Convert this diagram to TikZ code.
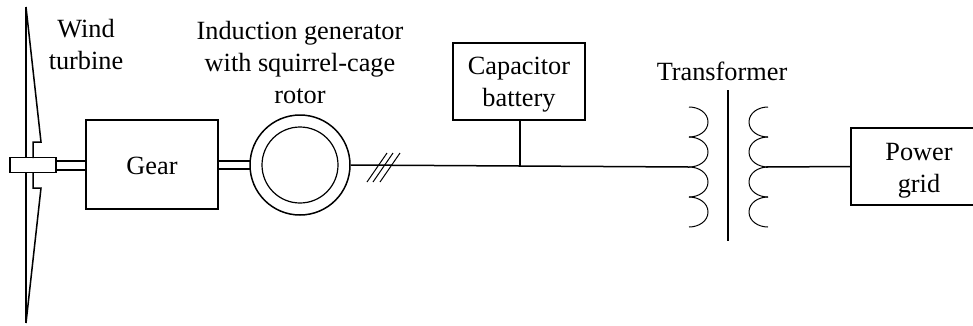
\documentclass[tikz,border=0pt]{standalone}
\usepackage{fontspec}
\setmainfont{Liberation Serif}
\begin{document}
\begin{tikzpicture}[x=1pt,y=-1pt,
  ln/.style={draw=black,line width=1.5pt,line join=miter},
  thin coil/.style={draw=black,line width=1pt},
  lbl/.style={font=\fontsize{26.3}{31.7}\selectfont,align=center,text=black,inner sep=0pt}]
\useasboundingbox (0,0) rectangle (973,325);
% blade
\draw[ln] (26,7) -- (26,158);
\draw[ln] (26,172) -- (26,323);
\draw[ln] (26,7) -- (41,142) -- (33,142) -- (33,158);
\draw[ln] (33,172) -- (33,188) -- (41,188) -- (26,323);
% boxes
\node[ln,minimum width=46pt,minimum height=15pt,inner sep=0pt] (hub) at (33,165) {};
\node[ln,minimum width=132pt,minimum height=89pt,inner sep=0pt] (gear) at (152,164.5) {};
\node[lbl,anchor=base] (gearl) at (152,174) {Gear};
\node[ln,circle,minimum size=100pt,inner sep=0pt] (gen) at (300,165) {};
\node[ln,circle,minimum size=76pt,inner sep=0pt,line width=1.2pt] (genin) at (300,165) {};
\node[ln,minimum width=132pt,minimum height=77pt,inner sep=0pt] (cap) at (519,81.5) {};
\node[lbl,anchor=base] (capl) at (519,106) {Capacitor\\battery};
\node[ln,minimum width=136pt,minimum height=77pt,inner sep=0pt] (grid) at (919,166.5) {};
\node[lbl,anchor=base] (gridl) at (919,192) {Power\\grid};
% shafts
\coordinate (s1) at (56,161); \coordinate (s2) at (86,161);
\coordinate (s3) at (56,170); \coordinate (s4) at (86,170);
\draw[ln] (s1) -- (s2) (s3) -- (s4);
\coordinate (g1) at (218,161); \coordinate (g2) at (250,161);
\coordinate (g3) at (218,169); \coordinate (g4) at (250,169);
\draw[ln] (g1) -- (g2) (g3) -- (g4);
% bus
\coordinate (coilL) at (689,167);
\coordinate (tap) at (520,166);
\draw[ln] (gen.east) -- (coilL);
\draw[ln] (cap.south -| tap) -- (tap);
\coordinate (t1a) at (367,182); \coordinate (t1b) at (387,153);
\coordinate (t2a) at (373,182); \coordinate (t2b) at (393,153);
\coordinate (t3a) at (380,182); \coordinate (t3b) at (400,153);
\draw[thin coil] (t1a) -- (t1b) (t2a) -- (t2b) (t3a) -- (t3b);
% transformer
\coordinate (coreT) at (728,90); \coordinate (coreB) at (728,241);
\draw[ln] (coreT) -- (coreB);
\foreach \y in {107,137,167,197} {
  \draw[thin coil] (689,\y) .. controls (699,\y) and (708,\y+6) .. (708,\y+15)
     .. controls (708,\y+24) and (699,\y+30) .. (689,\y+30);
  \draw[thin coil] (768,\y) .. controls (758,\y) and (749,\y+6) .. (749,\y+15)
     .. controls (749,\y+24) and (758,\y+30) .. (768,\y+30);
}
\coordinate (coilR) at (766,167);
\draw[ln] (coilR) -- (grid.west);
% labels
\node[lbl,anchor=base] (wind) at (86,69) {Wind\\turbine};
\node[lbl,anchor=base] (ind) at (300,103) {Induction generator\\with squirrel-cage\\rotor};
\node[lbl,anchor=base] (tr) at (722,80) {Transformer};
\end{tikzpicture}
\end{document}
